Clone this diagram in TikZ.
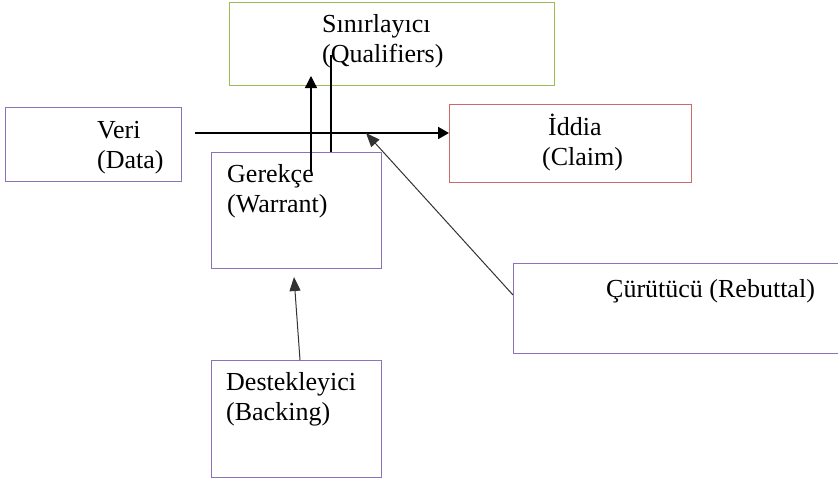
\documentclass[tikz,border=0pt]{standalone}
\usepackage{fontspec}
\setmainfont{Liberation Serif}
\usetikzlibrary{arrows.meta}
\definecolor{qgreen}{RGB}{155,187,89}
\definecolor{cred}{RGB}{205,105,105}
\definecolor{bpurple}{RGB}{140,115,185}
\definecolor{darkline}{RGB}{50,50,50}

\begin{document}
\begin{tikzpicture}[x = 1pt, y = -1pt,
    box/.style = {draw, rectangle, anchor = north west, inner sep = 0pt, line width = 1.1pt},
    txt/.style = {anchor = base west, align = left, inner sep = 0pt, font = \fontsize{26}{30}\selectfont},
    bold/.style = {line width = 2pt, -{Triangle[length = 11pt, width = 12pt]}},
    thin/.style = {line width = 1pt, darkline, -{Triangle[length = 14pt, width = 11pt]}}]
    \clip (0,0) rectangle (838,482);

    % boxes
    \node[box, draw = qgreen, minimum width = 325pt, minimum height = 83pt] (qual) at (229,2) {};
    \node[box, draw = bpurple, minimum width = 176pt, minimum height = 74pt] (veri) at (5,107) {};
    \node[box, draw = cred, minimum width = 242pt, minimum height = 78pt] (iddia) at (449,104) {};
    \node[box, draw = bpurple, minimum width = 170pt, minimum height = 116pt] (gerekce) at (211,152) {};
    \node[box, draw = bpurple, minimum width = 340pt, minimum height = 90pt] (curutucu) at (513,263) {};
    \node[box, draw = bpurple, minimum width = 170pt, minimum height = 117pt] (destek) at (211,360) {};

    % texts (base = last line)
    \node[txt] (qual-t) at (322,62) {Sınırlayıcı\\(Qualifiers)};
    \node[txt] (veri-t) at (97,168) {Veri\\(Data)};
    \node[txt] (iddia-t) at (542,165) {\hspace*{6pt}İddia\\(Claim)};
    \node[txt] (gerekce-t) at (227,212) {Gerekçe\\(Warrant)};
    \node[txt] (curutucu-t) at (606,297) {Çürütücü (Rebuttal)};
    \node[txt] (destek-t) at (226,420) {Destekleyici\\(Backing)};

    % connector ends
    \coordinate (d0) at (195,133);
    \coordinate (d1) at (449,133);
    \coordinate (w0) at (311,172);
    \coordinate (w1) at (311,76);
    \coordinate (w2) at (331,152);
    \coordinate (w3) at (331,55);
    \coordinate (r0) at (513,295);
    \coordinate (r1) at (366,133);
    \coordinate (b0) at (300,360);
    \coordinate (b1) at (294,277);

    \draw[bold] (d0) -- (d1);
    \draw[line width = 1.3pt, -{Triangle[length = 12pt, width = 12pt]}] (w0) -- (w1);
    \draw[line width = 2pt] (w2) -- (w3);
    \draw[thin] (r0) -- (r1);
    \draw[thin] (b0) -- (b1);
\end{tikzpicture}
\end{document}
